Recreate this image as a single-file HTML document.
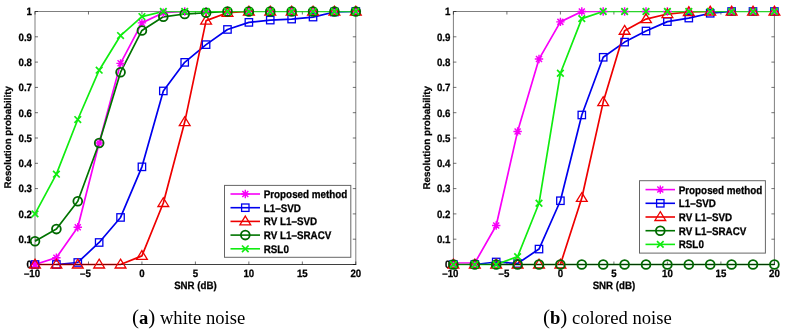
<!DOCTYPE html>
<html><head><meta charset="utf-8"><style>
html,body{margin:0;padding:0;background:#fff;}
body{width:786px;height:335px;overflow:hidden;position:relative;}
svg{position:absolute;left:0;top:0;will-change:transform;}
svg text{text-rendering:geometricPrecision;font-family:"Liberation Sans",sans-serif;font-weight:bold;font-size:9.7px;fill:#000;stroke:#000;stroke-width:0.25px;}
.cap{position:absolute;top:306px;font-family:"Liberation Serif",serif;font-size:18.6px;color:#000;white-space:nowrap;line-height:22px;}
.p{font-size:21px;}
</style></head><body>
<svg width="786" height="335" viewBox="0 0 786 335">
<text transform="translate(32,268.3) scale(1,1.1)" text-anchor="end">0</text>
<text transform="translate(32,243) scale(1,1.1)" text-anchor="end">0.1</text>
<text transform="translate(32,217.7) scale(1,1.1)" text-anchor="end">0.2</text>
<text transform="translate(32,192.4) scale(1,1.1)" text-anchor="end">0.3</text>
<text transform="translate(32,167.1) scale(1,1.1)" text-anchor="end">0.4</text>
<text transform="translate(32,141.8) scale(1,1.1)" text-anchor="end">0.5</text>
<text transform="translate(32,116.5) scale(1,1.1)" text-anchor="end">0.6</text>
<text transform="translate(32,91.2) scale(1,1.1)" text-anchor="end">0.7</text>
<text transform="translate(32,65.9) scale(1,1.1)" text-anchor="end">0.8</text>
<text transform="translate(32,40.6) scale(1,1.1)" text-anchor="end">0.9</text>
<text transform="translate(32,15.3) scale(1,1.1)" text-anchor="end">1</text>
<text transform="translate(32,276.8) scale(1,1.1)" text-anchor="middle">–10</text>
<text transform="translate(85.47,276.8) scale(1,1.1)" text-anchor="middle">–5</text>
<text transform="translate(141.93,276.8) scale(1,1.1)" text-anchor="middle">0</text>
<text transform="translate(195.4,276.8) scale(1,1.1)" text-anchor="middle">5</text>
<text transform="translate(248.87,276.8) scale(1,1.1)" text-anchor="middle">10</text>
<text transform="translate(302.33,276.8) scale(1,1.1)" text-anchor="middle">15</text>
<text transform="translate(355.8,276.8) scale(1,1.1)" text-anchor="middle">20</text>
<rect x="35" y="11.5" width="320.8" height="253" fill="none" stroke="#000" stroke-opacity="0.5" stroke-width="1"/>
<path d="M35 264.5v-3M35 11.5v3M88.47 264.5v-3M88.47 11.5v3M141.93 264.5v-3M141.93 11.5v3M195.4 264.5v-3M195.4 11.5v3M248.87 264.5v-3M248.87 11.5v3M302.33 264.5v-3M302.33 11.5v3M355.8 264.5v-3M355.8 11.5v3M35 264.5h3M355.8 264.5h-3M35 239.2h3M355.8 239.2h-3M35 213.9h3M355.8 213.9h-3M35 188.6h3M355.8 188.6h-3M35 163.3h3M355.8 163.3h-3M35 138h3M355.8 138h-3M35 112.7h3M355.8 112.7h-3M35 87.4h3M355.8 87.4h-3M35 62.1h3M355.8 62.1h-3M35 36.8h3M355.8 36.8h-3M35 11.5h3M355.8 11.5h-3" stroke="#000" stroke-opacity="0.7" stroke-width="0.8" fill="none"/>
<clipPath id="c35"><rect x="33" y="11.2" width="324.8" height="255"/></clipPath>
<path clip-path="url(#c35)" d="M35 264.5L56.39 257.67L77.77 227.31L99.16 143.06L120.55 63.36L141.93 22.89L163.32 12.77L184.71 11.5" stroke="#f800f8" stroke-width="1.7" fill="none" stroke-linejoin="round"/>
<path clip-path="url(#c35)" d="M56.39 264.5L77.77 262.48L99.16 242.49L120.55 217.44L141.93 166.84L163.32 90.94L184.71 62.35L206.09 44.64L227.48 29.46L248.87 22.38L270.25 20.1L291.64 19.09L313.03 17.07L334.41 12.01L355.8 11.5" stroke="#0000ee" stroke-width="1.7" fill="none" stroke-linejoin="round"/>
<path clip-path="url(#c35)" d="M35 264.5L56.39 264.5L77.77 264.5L99.16 264.5L120.55 264.5L141.93 255.9L163.32 203.02L184.71 122.06L206.09 20.61L227.48 12.77L248.87 11.5" stroke="#ee0000" stroke-width="1.7" fill="none" stroke-linejoin="round"/>
<path clip-path="url(#c35)" d="M35 241.22L56.39 229.08L77.77 201.25L99.16 143.06L120.55 72.22L141.93 30.47L163.32 16.81L184.71 14.03L206.09 12.77L227.48 11.5" stroke="#007400" stroke-width="1.7" fill="none" stroke-linejoin="round"/>
<path clip-path="url(#c35)" d="M35 213.9L56.39 174.18L77.77 119.53L99.16 70.2L120.55 35.53L141.93 16.56L163.32 11.5L184.71 11.5L206.09 11.5L227.48 11.5L248.87 11.5L270.25 11.5L291.64 11.5L313.03 11.5L334.41 11.5L355.8 11.5" stroke="#10ec10" stroke-width="1.7" fill="none" stroke-linejoin="round"/>
<path d="M34.5 264.5H356.3" stroke="#000" stroke-opacity="0.5" stroke-width="1"/>
<path d="M30.8 264.5H39.2M35 260.3V268.7M32 261.5L38 267.5M32 267.5L38 261.5" stroke="#f800f8" stroke-width="1.45" fill="none"/>
<path d="M52.19 257.67H60.59M56.39 253.47V261.87M53.39 254.67L59.39 260.67M53.39 260.67L59.39 254.67" stroke="#f800f8" stroke-width="1.45" fill="none"/>
<path d="M73.57 227.31H81.97M77.77 223.11V231.51M74.77 224.31L80.77 230.31M74.77 230.31L80.77 224.31" stroke="#f800f8" stroke-width="1.45" fill="none"/>
<path d="M94.96 143.06H103.36M99.16 138.86V147.26M96.16 140.06L102.16 146.06M96.16 146.06L102.16 140.06" stroke="#f800f8" stroke-width="1.45" fill="none"/>
<path d="M116.35 63.36H124.75M120.55 59.16V67.56M117.55 60.36L123.55 66.36M117.55 66.36L123.55 60.36" stroke="#f800f8" stroke-width="1.45" fill="none"/>
<path d="M137.73 22.89H146.13M141.93 18.69V27.09M138.93 19.89L144.93 25.89M138.93 25.89L144.93 19.89" stroke="#f800f8" stroke-width="1.45" fill="none"/>
<path d="M159.12 12.77H167.52M163.32 8.57V16.97M160.32 9.77L166.32 15.77M160.32 15.77L166.32 9.77" stroke="#f800f8" stroke-width="1.45" fill="none"/>
<path d="M180.51 11.5H188.91M184.71 7.3V15.7M181.71 8.5L187.71 14.5M181.71 14.5L187.71 8.5" stroke="#f800f8" stroke-width="1.45" fill="none"/>
<path d="M201.89 11.5H210.29M206.09 7.3V15.7M203.09 8.5L209.09 14.5M203.09 14.5L209.09 8.5" stroke="#f800f8" stroke-width="1.45" fill="none"/>
<path d="M223.28 11.5H231.68M227.48 7.3V15.7M224.48 8.5L230.48 14.5M224.48 14.5L230.48 8.5" stroke="#f800f8" stroke-width="1.45" fill="none"/>
<path d="M244.67 11.5H253.07M248.87 7.3V15.7M245.87 8.5L251.87 14.5M245.87 14.5L251.87 8.5" stroke="#f800f8" stroke-width="1.45" fill="none"/>
<path d="M266.05 11.5H274.45M270.25 7.3V15.7M267.25 8.5L273.25 14.5M267.25 14.5L273.25 8.5" stroke="#f800f8" stroke-width="1.45" fill="none"/>
<path d="M287.44 11.5H295.84M291.64 7.3V15.7M288.64 8.5L294.64 14.5M288.64 14.5L294.64 8.5" stroke="#f800f8" stroke-width="1.45" fill="none"/>
<path d="M308.83 11.5H317.23M313.03 7.3V15.7M310.03 8.5L316.03 14.5M310.03 14.5L316.03 8.5" stroke="#f800f8" stroke-width="1.45" fill="none"/>
<path d="M330.21 11.5H338.61M334.41 7.3V15.7M331.41 8.5L337.41 14.5M331.41 14.5L337.41 8.5" stroke="#f800f8" stroke-width="1.45" fill="none"/>
<path d="M351.6 11.5H360M355.8 7.3V15.7M352.8 8.5L358.8 14.5M352.8 14.5L358.8 8.5" stroke="#f800f8" stroke-width="1.45" fill="none"/>
<rect x="31.3" y="260.8" width="7.4" height="7.4" stroke="#0000ee" stroke-width="1.3" fill="none"/>
<rect x="52.69" y="260.8" width="7.4" height="7.4" stroke="#0000ee" stroke-width="1.3" fill="none"/>
<rect x="74.07" y="258.78" width="7.4" height="7.4" stroke="#0000ee" stroke-width="1.3" fill="none"/>
<rect x="95.46" y="238.79" width="7.4" height="7.4" stroke="#0000ee" stroke-width="1.3" fill="none"/>
<rect x="116.85" y="213.74" width="7.4" height="7.4" stroke="#0000ee" stroke-width="1.3" fill="none"/>
<rect x="138.23" y="163.14" width="7.4" height="7.4" stroke="#0000ee" stroke-width="1.3" fill="none"/>
<rect x="159.62" y="87.24" width="7.4" height="7.4" stroke="#0000ee" stroke-width="1.3" fill="none"/>
<rect x="181.01" y="58.65" width="7.4" height="7.4" stroke="#0000ee" stroke-width="1.3" fill="none"/>
<rect x="202.39" y="40.94" width="7.4" height="7.4" stroke="#0000ee" stroke-width="1.3" fill="none"/>
<rect x="223.78" y="25.76" width="7.4" height="7.4" stroke="#0000ee" stroke-width="1.3" fill="none"/>
<rect x="245.17" y="18.68" width="7.4" height="7.4" stroke="#0000ee" stroke-width="1.3" fill="none"/>
<rect x="266.55" y="16.4" width="7.4" height="7.4" stroke="#0000ee" stroke-width="1.3" fill="none"/>
<rect x="287.94" y="15.39" width="7.4" height="7.4" stroke="#0000ee" stroke-width="1.3" fill="none"/>
<rect x="309.33" y="13.37" width="7.4" height="7.4" stroke="#0000ee" stroke-width="1.3" fill="none"/>
<rect x="330.71" y="8.31" width="7.4" height="7.4" stroke="#0000ee" stroke-width="1.3" fill="none"/>
<rect x="352.1" y="7.8" width="7.4" height="7.4" stroke="#0000ee" stroke-width="1.3" fill="none"/>
<path d="M35 259.2L40.4 268H29.6Z" stroke="#ee0000" stroke-width="1.3" fill="none" stroke-linejoin="miter"/>
<path d="M56.39 259.2L61.79 268H50.99Z" stroke="#ee0000" stroke-width="1.3" fill="none" stroke-linejoin="miter"/>
<path d="M77.77 259.2L83.17 268H72.37Z" stroke="#ee0000" stroke-width="1.3" fill="none" stroke-linejoin="miter"/>
<path d="M99.16 259.2L104.56 268H93.76Z" stroke="#ee0000" stroke-width="1.3" fill="none" stroke-linejoin="miter"/>
<path d="M120.55 259.2L125.95 268H115.15Z" stroke="#ee0000" stroke-width="1.3" fill="none" stroke-linejoin="miter"/>
<path d="M141.93 250.6L147.33 259.4H136.53Z" stroke="#ee0000" stroke-width="1.3" fill="none" stroke-linejoin="miter"/>
<path d="M163.32 197.72L168.72 206.52H157.92Z" stroke="#ee0000" stroke-width="1.3" fill="none" stroke-linejoin="miter"/>
<path d="M184.71 116.76L190.11 125.56H179.31Z" stroke="#ee0000" stroke-width="1.3" fill="none" stroke-linejoin="miter"/>
<path d="M206.09 15.31L211.49 24.11H200.69Z" stroke="#ee0000" stroke-width="1.3" fill="none" stroke-linejoin="miter"/>
<path d="M227.48 7.47L232.88 16.27H222.08Z" stroke="#ee0000" stroke-width="1.3" fill="none" stroke-linejoin="miter"/>
<path d="M248.87 6.2L254.27 15H243.47Z" stroke="#ee0000" stroke-width="1.3" fill="none" stroke-linejoin="miter"/>
<path d="M270.25 6.2L275.65 15H264.85Z" stroke="#ee0000" stroke-width="1.3" fill="none" stroke-linejoin="miter"/>
<path d="M291.64 6.2L297.04 15H286.24Z" stroke="#ee0000" stroke-width="1.3" fill="none" stroke-linejoin="miter"/>
<path d="M313.03 6.2L318.43 15H307.63Z" stroke="#ee0000" stroke-width="1.3" fill="none" stroke-linejoin="miter"/>
<path d="M334.41 6.2L339.81 15H329.01Z" stroke="#ee0000" stroke-width="1.3" fill="none" stroke-linejoin="miter"/>
<path d="M355.8 6.2L361.2 15H350.4Z" stroke="#ee0000" stroke-width="1.3" fill="none" stroke-linejoin="miter"/>
<circle cx="35" cy="241.22" r="4.4" stroke="#006800" stroke-width="1.8" fill="none"/>
<circle cx="56.39" cy="229.08" r="4.4" stroke="#006800" stroke-width="1.8" fill="none"/>
<circle cx="77.77" cy="201.25" r="4.4" stroke="#006800" stroke-width="1.8" fill="none"/>
<circle cx="99.16" cy="143.06" r="4.4" stroke="#006800" stroke-width="1.8" fill="none"/>
<circle cx="120.55" cy="72.22" r="4.4" stroke="#006800" stroke-width="1.8" fill="none"/>
<circle cx="141.93" cy="30.47" r="4.4" stroke="#006800" stroke-width="1.8" fill="none"/>
<circle cx="163.32" cy="16.81" r="4.4" stroke="#006800" stroke-width="1.8" fill="none"/>
<circle cx="184.71" cy="14.03" r="4.4" stroke="#006800" stroke-width="1.8" fill="none"/>
<circle cx="206.09" cy="12.77" r="4.4" stroke="#006800" stroke-width="1.8" fill="none"/>
<circle cx="227.48" cy="11.5" r="4.4" stroke="#006800" stroke-width="1.8" fill="none"/>
<circle cx="248.87" cy="11.5" r="4.4" stroke="#006800" stroke-width="1.8" fill="none"/>
<circle cx="270.25" cy="11.5" r="4.4" stroke="#006800" stroke-width="1.8" fill="none"/>
<circle cx="291.64" cy="11.5" r="4.4" stroke="#006800" stroke-width="1.8" fill="none"/>
<circle cx="313.03" cy="11.5" r="4.4" stroke="#006800" stroke-width="1.8" fill="none"/>
<circle cx="334.41" cy="11.5" r="4.4" stroke="#006800" stroke-width="1.8" fill="none"/>
<circle cx="355.8" cy="11.5" r="4.4" stroke="#006800" stroke-width="1.8" fill="none"/>
<path d="M31.7 210.6L38.3 217.2M31.7 217.2L38.3 210.6" stroke="#10ec10" stroke-width="1.7" fill="none"/>
<path d="M53.09 170.88L59.69 177.48M53.09 177.48L59.69 170.88" stroke="#10ec10" stroke-width="1.7" fill="none"/>
<path d="M74.47 116.23L81.07 122.83M74.47 122.83L81.07 116.23" stroke="#10ec10" stroke-width="1.7" fill="none"/>
<path d="M95.86 66.9L102.46 73.5M95.86 73.5L102.46 66.9" stroke="#10ec10" stroke-width="1.7" fill="none"/>
<path d="M117.25 32.23L123.85 38.83M117.25 38.83L123.85 32.23" stroke="#10ec10" stroke-width="1.7" fill="none"/>
<path d="M138.63 13.26L145.23 19.86M138.63 19.86L145.23 13.26" stroke="#10ec10" stroke-width="1.7" fill="none"/>
<path d="M160.02 8.2L166.62 14.8M160.02 14.8L166.62 8.2" stroke="#10ec10" stroke-width="1.7" fill="none"/>
<path d="M181.41 8.2L188.01 14.8M181.41 14.8L188.01 8.2" stroke="#10ec10" stroke-width="1.7" fill="none"/>
<path d="M202.79 8.2L209.39 14.8M202.79 14.8L209.39 8.2" stroke="#10ec10" stroke-width="1.7" fill="none"/>
<path d="M224.18 8.2L230.78 14.8M224.18 14.8L230.78 8.2" stroke="#10ec10" stroke-width="1.7" fill="none"/>
<path d="M245.57 8.2L252.17 14.8M245.57 14.8L252.17 8.2" stroke="#10ec10" stroke-width="1.7" fill="none"/>
<path d="M266.95 8.2L273.55 14.8M266.95 14.8L273.55 8.2" stroke="#10ec10" stroke-width="1.7" fill="none"/>
<path d="M288.34 8.2L294.94 14.8M288.34 14.8L294.94 8.2" stroke="#10ec10" stroke-width="1.7" fill="none"/>
<path d="M309.73 8.2L316.33 14.8M309.73 14.8L316.33 8.2" stroke="#10ec10" stroke-width="1.7" fill="none"/>
<path d="M331.11 8.2L337.71 14.8M331.11 14.8L337.71 8.2" stroke="#10ec10" stroke-width="1.7" fill="none"/>
<path d="M352.5 8.2L359.1 14.8M352.5 14.8L359.1 8.2" stroke="#10ec10" stroke-width="1.7" fill="none"/>
<text transform="translate(195.4,288.6) scale(1,1.1)" text-anchor="middle">SNR (dB)</text>
<rect x="224.5" y="185.4" width="126.3" height="71.9" fill="#fff" stroke="#000" stroke-opacity="0.6" stroke-width="1"/>
<path d="M230.5 194H260" stroke="#f800f8" stroke-width="1.6"/>
<path d="M241.1 194H249.5M245.3 189.8V198.2M242.3 191L248.3 197M242.3 197L248.3 191" stroke="#f800f8" stroke-width="1.45" fill="none"/>
<text transform="translate(263.7,198) scale(1,1.12)" style="font-size:9.85px">Proposed method</text>
<path d="M230.5 207.7H260" stroke="#0000ee" stroke-width="1.6"/>
<rect x="241.6" y="204" width="7.4" height="7.4" stroke="#0000ee" stroke-width="1.3" fill="none"/>
<text transform="translate(263.7,211.7) scale(1,1.12)" style="font-size:9.85px">L1–SVD</text>
<path d="M230.5 221.4H260" stroke="#ee0000" stroke-width="1.6"/>
<path d="M245.3 216.1L250.7 224.9H239.9Z" stroke="#ee0000" stroke-width="1.3" fill="none" stroke-linejoin="miter"/>
<text transform="translate(263.7,225.4) scale(1,1.12)" style="font-size:9.85px">RV L1–SVD</text>
<path d="M230.5 235.1H260" stroke="#007400" stroke-width="1.6"/>
<circle cx="245.3" cy="235.1" r="4.4" stroke="#006800" stroke-width="1.8" fill="none"/>
<text transform="translate(263.7,239.1) scale(1,1.12)" style="font-size:9.85px">RV L1–SRACV</text>
<path d="M230.5 248.8H260" stroke="#10ec10" stroke-width="1.6"/>
<path d="M242 245.5L248.6 252.1M242 252.1L248.6 245.5" stroke="#10ec10" stroke-width="1.7" fill="none"/>
<text transform="translate(263.7,252.8) scale(1,1.12)" style="font-size:9.85px">RSL0</text>
<text transform="translate(450.4,268.3) scale(1,1.1)" text-anchor="end">0</text>
<text transform="translate(450.4,243) scale(1,1.1)" text-anchor="end">0.1</text>
<text transform="translate(450.4,217.7) scale(1,1.1)" text-anchor="end">0.2</text>
<text transform="translate(450.4,192.4) scale(1,1.1)" text-anchor="end">0.3</text>
<text transform="translate(450.4,167.1) scale(1,1.1)" text-anchor="end">0.4</text>
<text transform="translate(450.4,141.8) scale(1,1.1)" text-anchor="end">0.5</text>
<text transform="translate(450.4,116.5) scale(1,1.1)" text-anchor="end">0.6</text>
<text transform="translate(450.4,91.2) scale(1,1.1)" text-anchor="end">0.7</text>
<text transform="translate(450.4,65.9) scale(1,1.1)" text-anchor="end">0.8</text>
<text transform="translate(450.4,40.6) scale(1,1.1)" text-anchor="end">0.9</text>
<text transform="translate(450.4,15.3) scale(1,1.1)" text-anchor="end">1</text>
<text transform="translate(450.4,276.8) scale(1,1.1)" text-anchor="middle">–10</text>
<text transform="translate(503.9,276.8) scale(1,1.1)" text-anchor="middle">–5</text>
<text transform="translate(560.4,276.8) scale(1,1.1)" text-anchor="middle">0</text>
<text transform="translate(613.9,276.8) scale(1,1.1)" text-anchor="middle">5</text>
<text transform="translate(667.4,276.8) scale(1,1.1)" text-anchor="middle">10</text>
<text transform="translate(720.9,276.8) scale(1,1.1)" text-anchor="middle">15</text>
<text transform="translate(774.4,276.8) scale(1,1.1)" text-anchor="middle">20</text>
<rect x="453.4" y="11.5" width="321" height="253" fill="none" stroke="#000" stroke-opacity="0.5" stroke-width="1"/>
<path d="M453.4 264.5v-3M453.4 11.5v3M506.9 264.5v-3M506.9 11.5v3M560.4 264.5v-3M560.4 11.5v3M613.9 264.5v-3M613.9 11.5v3M667.4 264.5v-3M667.4 11.5v3M720.9 264.5v-3M720.9 11.5v3M774.4 264.5v-3M774.4 11.5v3M453.4 264.5h3M774.4 264.5h-3M453.4 239.2h3M774.4 239.2h-3M453.4 213.9h3M774.4 213.9h-3M453.4 188.6h3M774.4 188.6h-3M453.4 163.3h3M774.4 163.3h-3M453.4 138h3M774.4 138h-3M453.4 112.7h3M774.4 112.7h-3M453.4 87.4h3M774.4 87.4h-3M453.4 62.1h3M774.4 62.1h-3M453.4 36.8h3M774.4 36.8h-3M453.4 11.5h3M774.4 11.5h-3" stroke="#000" stroke-opacity="0.7" stroke-width="0.8" fill="none"/>
<clipPath id="c453"><rect x="451.4" y="11.2" width="325" height="255"/></clipPath>
<path clip-path="url(#c453)" d="M453.4 262.98L474.8 262.98L496.2 225.54L517.6 131.42L539 59.06L560.4 21.87L581.8 11.5L603.2 11.5" stroke="#f800f8" stroke-width="1.7" fill="none" stroke-linejoin="round"/>
<path clip-path="url(#c453)" d="M474.8 264.5L496.2 261.97L517.6 263.49L539 249.07L560.4 200.74L581.8 114.98L603.2 57.29L624.6 42.11L646 30.98L667.4 21.62L688.8 18.08L710.2 13.27L731.6 11.5" stroke="#0000ee" stroke-width="1.7" fill="none" stroke-linejoin="round"/>
<path clip-path="url(#c453)" d="M560.4 264.5L581.8 197.96L603.2 102.07L624.6 30.73L646 19.09L667.4 14.03L688.8 12.01L710.2 11.5" stroke="#ee0000" stroke-width="1.7" fill="none" stroke-linejoin="round"/>
<path clip-path="url(#c453)" d="M496.2 264.5L517.6 264.5L539 264.5L560.4 264.5L581.8 264.5L603.2 264.5L624.6 264.5L646 264.5L667.4 264.5L688.8 264.5L710.2 264.5L731.6 264.5L753 264.5L774.4 264.5" stroke="#007400" stroke-width="1.7" fill="none" stroke-linejoin="round"/>
<path clip-path="url(#c453)" d="M453.4 264.5L474.8 264.5L496.2 264.5L517.6 256.66L539 203.27L560.4 73.23L581.8 18.58L603.2 11.5L624.6 11.5L646 11.5L667.4 11.5L688.8 11.5L710.2 11.5L731.6 11.5L753 11.5L774.4 11.5" stroke="#10ec10" stroke-width="1.7" fill="none" stroke-linejoin="round"/>
<path d="M452.9 264.5H774.9" stroke="#000" stroke-opacity="0.5" stroke-width="1"/>
<path d="M449.2 262.98H457.6M453.4 258.78V267.18M450.4 259.98L456.4 265.98M450.4 265.98L456.4 259.98" stroke="#f800f8" stroke-width="1.45" fill="none"/>
<path d="M470.6 262.98H479M474.8 258.78V267.18M471.8 259.98L477.8 265.98M471.8 265.98L477.8 259.98" stroke="#f800f8" stroke-width="1.45" fill="none"/>
<path d="M492 225.54H500.4M496.2 221.34V229.74M493.2 222.54L499.2 228.54M493.2 228.54L499.2 222.54" stroke="#f800f8" stroke-width="1.45" fill="none"/>
<path d="M513.4 131.42H521.8M517.6 127.22V135.62M514.6 128.42L520.6 134.42M514.6 134.42L520.6 128.42" stroke="#f800f8" stroke-width="1.45" fill="none"/>
<path d="M534.8 59.06H543.2M539 54.86V63.26M536 56.06L542 62.06M536 62.06L542 56.06" stroke="#f800f8" stroke-width="1.45" fill="none"/>
<path d="M556.2 21.87H564.6M560.4 17.67V26.07M557.4 18.87L563.4 24.87M557.4 24.87L563.4 18.87" stroke="#f800f8" stroke-width="1.45" fill="none"/>
<path d="M577.6 11.5H586M581.8 7.3V15.7M578.8 8.5L584.8 14.5M578.8 14.5L584.8 8.5" stroke="#f800f8" stroke-width="1.45" fill="none"/>
<path d="M599 11.5H607.4M603.2 7.3V15.7M600.2 8.5L606.2 14.5M600.2 14.5L606.2 8.5" stroke="#f800f8" stroke-width="1.45" fill="none"/>
<path d="M620.4 11.5H628.8M624.6 7.3V15.7M621.6 8.5L627.6 14.5M621.6 14.5L627.6 8.5" stroke="#f800f8" stroke-width="1.45" fill="none"/>
<path d="M641.8 11.5H650.2M646 7.3V15.7M643 8.5L649 14.5M643 14.5L649 8.5" stroke="#f800f8" stroke-width="1.45" fill="none"/>
<path d="M663.2 11.5H671.6M667.4 7.3V15.7M664.4 8.5L670.4 14.5M664.4 14.5L670.4 8.5" stroke="#f800f8" stroke-width="1.45" fill="none"/>
<path d="M684.6 11.5H693M688.8 7.3V15.7M685.8 8.5L691.8 14.5M685.8 14.5L691.8 8.5" stroke="#f800f8" stroke-width="1.45" fill="none"/>
<path d="M706 11.5H714.4M710.2 7.3V15.7M707.2 8.5L713.2 14.5M707.2 14.5L713.2 8.5" stroke="#f800f8" stroke-width="1.45" fill="none"/>
<path d="M727.4 11.5H735.8M731.6 7.3V15.7M728.6 8.5L734.6 14.5M728.6 14.5L734.6 8.5" stroke="#f800f8" stroke-width="1.45" fill="none"/>
<path d="M748.8 11.5H757.2M753 7.3V15.7M750 8.5L756 14.5M750 14.5L756 8.5" stroke="#f800f8" stroke-width="1.45" fill="none"/>
<path d="M770.2 11.5H778.6M774.4 7.3V15.7M771.4 8.5L777.4 14.5M771.4 14.5L777.4 8.5" stroke="#f800f8" stroke-width="1.45" fill="none"/>
<rect x="449.7" y="260.8" width="7.4" height="7.4" stroke="#0000ee" stroke-width="1.3" fill="none"/>
<rect x="471.1" y="260.8" width="7.4" height="7.4" stroke="#0000ee" stroke-width="1.3" fill="none"/>
<rect x="492.5" y="258.27" width="7.4" height="7.4" stroke="#0000ee" stroke-width="1.3" fill="none"/>
<rect x="513.9" y="259.79" width="7.4" height="7.4" stroke="#0000ee" stroke-width="1.3" fill="none"/>
<rect x="535.3" y="245.37" width="7.4" height="7.4" stroke="#0000ee" stroke-width="1.3" fill="none"/>
<rect x="556.7" y="197.04" width="7.4" height="7.4" stroke="#0000ee" stroke-width="1.3" fill="none"/>
<rect x="578.1" y="111.28" width="7.4" height="7.4" stroke="#0000ee" stroke-width="1.3" fill="none"/>
<rect x="599.5" y="53.59" width="7.4" height="7.4" stroke="#0000ee" stroke-width="1.3" fill="none"/>
<rect x="620.9" y="38.41" width="7.4" height="7.4" stroke="#0000ee" stroke-width="1.3" fill="none"/>
<rect x="642.3" y="27.28" width="7.4" height="7.4" stroke="#0000ee" stroke-width="1.3" fill="none"/>
<rect x="663.7" y="17.92" width="7.4" height="7.4" stroke="#0000ee" stroke-width="1.3" fill="none"/>
<rect x="685.1" y="14.38" width="7.4" height="7.4" stroke="#0000ee" stroke-width="1.3" fill="none"/>
<rect x="706.5" y="9.57" width="7.4" height="7.4" stroke="#0000ee" stroke-width="1.3" fill="none"/>
<rect x="727.9" y="7.8" width="7.4" height="7.4" stroke="#0000ee" stroke-width="1.3" fill="none"/>
<rect x="749.3" y="7.8" width="7.4" height="7.4" stroke="#0000ee" stroke-width="1.3" fill="none"/>
<rect x="770.7" y="7.8" width="7.4" height="7.4" stroke="#0000ee" stroke-width="1.3" fill="none"/>
<path d="M453.4 259.2L458.8 268H448Z" stroke="#ee0000" stroke-width="1.3" fill="none" stroke-linejoin="miter"/>
<path d="M474.8 259.2L480.2 268H469.4Z" stroke="#ee0000" stroke-width="1.3" fill="none" stroke-linejoin="miter"/>
<path d="M496.2 259.2L501.6 268H490.8Z" stroke="#ee0000" stroke-width="1.3" fill="none" stroke-linejoin="miter"/>
<path d="M517.6 259.2L523 268H512.2Z" stroke="#ee0000" stroke-width="1.3" fill="none" stroke-linejoin="miter"/>
<path d="M539 259.2L544.4 268H533.6Z" stroke="#ee0000" stroke-width="1.3" fill="none" stroke-linejoin="miter"/>
<path d="M560.4 259.2L565.8 268H555Z" stroke="#ee0000" stroke-width="1.3" fill="none" stroke-linejoin="miter"/>
<path d="M581.8 192.66L587.2 201.46H576.4Z" stroke="#ee0000" stroke-width="1.3" fill="none" stroke-linejoin="miter"/>
<path d="M603.2 96.77L608.6 105.57H597.8Z" stroke="#ee0000" stroke-width="1.3" fill="none" stroke-linejoin="miter"/>
<path d="M624.6 25.43L630 34.23H619.2Z" stroke="#ee0000" stroke-width="1.3" fill="none" stroke-linejoin="miter"/>
<path d="M646 13.79L651.4 22.59H640.6Z" stroke="#ee0000" stroke-width="1.3" fill="none" stroke-linejoin="miter"/>
<path d="M667.4 8.73L672.8 17.53H662Z" stroke="#ee0000" stroke-width="1.3" fill="none" stroke-linejoin="miter"/>
<path d="M688.8 6.71L694.2 15.51H683.4Z" stroke="#ee0000" stroke-width="1.3" fill="none" stroke-linejoin="miter"/>
<path d="M710.2 6.2L715.6 15H704.8Z" stroke="#ee0000" stroke-width="1.3" fill="none" stroke-linejoin="miter"/>
<path d="M731.6 6.2L737 15H726.2Z" stroke="#ee0000" stroke-width="1.3" fill="none" stroke-linejoin="miter"/>
<path d="M753 6.2L758.4 15H747.6Z" stroke="#ee0000" stroke-width="1.3" fill="none" stroke-linejoin="miter"/>
<path d="M774.4 6.2L779.8 15H769Z" stroke="#ee0000" stroke-width="1.3" fill="none" stroke-linejoin="miter"/>
<circle cx="453.4" cy="264.5" r="4.4" stroke="#006800" stroke-width="1.8" fill="none"/>
<circle cx="474.8" cy="264.5" r="4.4" stroke="#006800" stroke-width="1.8" fill="none"/>
<circle cx="496.2" cy="264.5" r="4.4" stroke="#006800" stroke-width="1.8" fill="none"/>
<circle cx="517.6" cy="264.5" r="4.4" stroke="#006800" stroke-width="1.8" fill="none"/>
<circle cx="539" cy="264.5" r="4.4" stroke="#006800" stroke-width="1.8" fill="none"/>
<circle cx="560.4" cy="264.5" r="4.4" stroke="#006800" stroke-width="1.8" fill="none"/>
<circle cx="581.8" cy="264.5" r="4.4" stroke="#006800" stroke-width="1.8" fill="none"/>
<circle cx="603.2" cy="264.5" r="4.4" stroke="#006800" stroke-width="1.8" fill="none"/>
<circle cx="624.6" cy="264.5" r="4.4" stroke="#006800" stroke-width="1.8" fill="none"/>
<circle cx="646" cy="264.5" r="4.4" stroke="#006800" stroke-width="1.8" fill="none"/>
<circle cx="667.4" cy="264.5" r="4.4" stroke="#006800" stroke-width="1.8" fill="none"/>
<circle cx="688.8" cy="264.5" r="4.4" stroke="#006800" stroke-width="1.8" fill="none"/>
<circle cx="710.2" cy="264.5" r="4.4" stroke="#006800" stroke-width="1.8" fill="none"/>
<circle cx="731.6" cy="264.5" r="4.4" stroke="#006800" stroke-width="1.8" fill="none"/>
<circle cx="753" cy="264.5" r="4.4" stroke="#006800" stroke-width="1.8" fill="none"/>
<circle cx="774.4" cy="264.5" r="4.4" stroke="#006800" stroke-width="1.8" fill="none"/>
<path d="M450.1 261.2L456.7 267.8M450.1 267.8L456.7 261.2" stroke="#10ec10" stroke-width="1.7" fill="none"/>
<path d="M471.5 261.2L478.1 267.8M471.5 267.8L478.1 261.2" stroke="#10ec10" stroke-width="1.7" fill="none"/>
<path d="M492.9 261.2L499.5 267.8M492.9 267.8L499.5 261.2" stroke="#10ec10" stroke-width="1.7" fill="none"/>
<path d="M514.3 253.36L520.9 259.96M514.3 259.96L520.9 253.36" stroke="#10ec10" stroke-width="1.7" fill="none"/>
<path d="M535.7 199.97L542.3 206.57M535.7 206.57L542.3 199.97" stroke="#10ec10" stroke-width="1.7" fill="none"/>
<path d="M557.1 69.93L563.7 76.53M557.1 76.53L563.7 69.93" stroke="#10ec10" stroke-width="1.7" fill="none"/>
<path d="M578.5 15.28L585.1 21.88M578.5 21.88L585.1 15.28" stroke="#10ec10" stroke-width="1.7" fill="none"/>
<path d="M599.9 8.2L606.5 14.8M599.9 14.8L606.5 8.2" stroke="#10ec10" stroke-width="1.7" fill="none"/>
<path d="M621.3 8.2L627.9 14.8M621.3 14.8L627.9 8.2" stroke="#10ec10" stroke-width="1.7" fill="none"/>
<path d="M642.7 8.2L649.3 14.8M642.7 14.8L649.3 8.2" stroke="#10ec10" stroke-width="1.7" fill="none"/>
<path d="M664.1 8.2L670.7 14.8M664.1 14.8L670.7 8.2" stroke="#10ec10" stroke-width="1.7" fill="none"/>
<path d="M685.5 8.2L692.1 14.8M685.5 14.8L692.1 8.2" stroke="#10ec10" stroke-width="1.7" fill="none"/>
<path d="M706.9 8.2L713.5 14.8M706.9 14.8L713.5 8.2" stroke="#10ec10" stroke-width="1.7" fill="none"/>
<path d="M728.3 8.2L734.9 14.8M728.3 14.8L734.9 8.2" stroke="#10ec10" stroke-width="1.7" fill="none"/>
<path d="M749.7 8.2L756.3 14.8M749.7 14.8L756.3 8.2" stroke="#10ec10" stroke-width="1.7" fill="none"/>
<path d="M771.1 8.2L777.7 14.8M771.1 14.8L777.7 8.2" stroke="#10ec10" stroke-width="1.7" fill="none"/>
<text transform="translate(613.9,288.6) scale(1,1.1)" text-anchor="middle">SNR (dB)</text>
<rect x="639.5" y="180.7" width="125.9" height="72.4" fill="#fff" stroke="#000" stroke-opacity="0.6" stroke-width="1"/>
<path d="M645.5 189.6H675" stroke="#f800f8" stroke-width="1.6"/>
<path d="M656.1 189.6H664.5M660.3 185.4V193.8M657.3 186.6L663.3 192.6M657.3 192.6L663.3 186.6" stroke="#f800f8" stroke-width="1.45" fill="none"/>
<text transform="translate(678.7,193.6) scale(1,1.12)" style="font-size:9.85px">Proposed method</text>
<path d="M645.5 203.3H675" stroke="#0000ee" stroke-width="1.6"/>
<rect x="656.6" y="199.6" width="7.4" height="7.4" stroke="#0000ee" stroke-width="1.3" fill="none"/>
<text transform="translate(678.7,207.3) scale(1,1.12)" style="font-size:9.85px">L1–SVD</text>
<path d="M645.5 217H675" stroke="#ee0000" stroke-width="1.6"/>
<path d="M660.3 211.7L665.7 220.5H654.9Z" stroke="#ee0000" stroke-width="1.3" fill="none" stroke-linejoin="miter"/>
<text transform="translate(678.7,221) scale(1,1.12)" style="font-size:9.85px">RV L1–SVD</text>
<path d="M645.5 230.7H675" stroke="#007400" stroke-width="1.6"/>
<circle cx="660.3" cy="230.7" r="4.4" stroke="#006800" stroke-width="1.8" fill="none"/>
<text transform="translate(678.7,234.7) scale(1,1.12)" style="font-size:9.85px">RV L1–SRACV</text>
<path d="M645.5 244.4H675" stroke="#10ec10" stroke-width="1.6"/>
<path d="M657 241.1L663.6 247.7M657 247.7L663.6 241.1" stroke="#10ec10" stroke-width="1.7" fill="none"/>
<text transform="translate(678.7,248.4) scale(1,1.12)" style="font-size:9.85px">RSL0</text>
<text x="0" y="0" text-anchor="middle" style="font-size:9.7px" transform="translate(11.3,137.35) rotate(-90)">Resolution probability</text>
<text x="0" y="0" text-anchor="middle" style="font-size:9.82px" transform="translate(429.5,137.75) rotate(-90)">Resolution probability</text>
</svg>
<div class="cap" style="left:132px"><span class="p">(</span><b>a</b><span class="p">)</span> white noise</div>
<div class="cap" style="left:543px"><span class="p">(</span><b>b</b><span class="p">)</span> colored noise</div>
</body></html>
